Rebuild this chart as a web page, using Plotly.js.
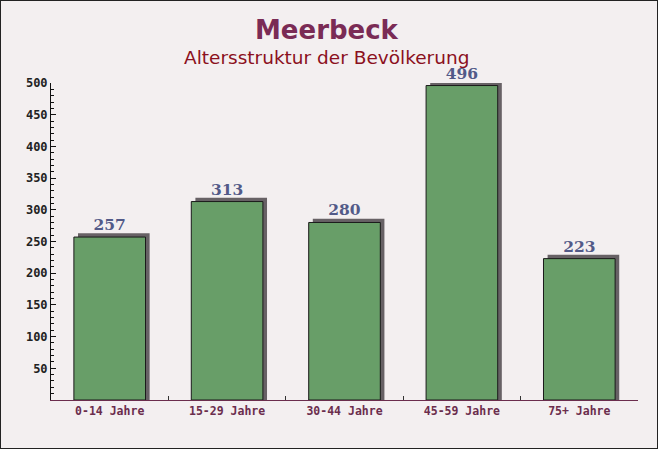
<!DOCTYPE html>
<html>
<head>
<meta charset="utf-8">
<script src="https://cdn.plot.ly/plotly-3.0.1.min.js"></script>
<style>
  body { margin: 0; }
  #plot { width: 658px; height: 449px; box-sizing: border-box; border: 1px solid #222; background: #f3eff0; }
</style>
</head>
<body>
<div id="plot"></div>
<script>
// Altersgruppen und Einwohnerzahlen
let groups = ["0-14 Jahre", "15-29 Jahre", "30-44 Jahre", "45-59 Jahre", "75+ Jahre"];
let counts = [257, 313, 280, 496, 223];
let yTicks = [50, 100, 150, 200, 250, 300, 350, 400, 450, 500];

// shadow behind the bars (few px right and up)
let shadow = {
  x: groups,
  y: counts.map(v => v + 6),
  type: "bar",
  width: 0.61,
  offset: -0.305 + 0.035,
  marker: { color: "#676165" },
  hoverinfo: "skip"
};

let bars = {
  x: groups,
  y: counts,
  type: "bar",
  width: 0.61,
  offset: -0.305,
  marker: { color: "rgb(104,158,104)", line: { color: "#1a1a1a", width: 1 } },
  text: counts.map(String),
  textposition: "outside",
  cliponaxis: false,
  textfont: { family: "DejaVu Serif", size: 15.5, weight: "bold", color: "#525a88" }
};

let layout = {
  width: 656,
  height: 447,
  margin: { l: 50, r: 19, t: 82, b: 48 },
  paper_bgcolor: "#f3eff0",
  plot_bgcolor: "#f3eff0",
  showlegend: false,
  barmode: "overlay",
  hovermode: false,
  xaxis: {
    type: "category",
    range: [-0.5, 4.5],
    showline: true,
    linecolor: "#6b2d4d",
    ticks: "inside",
    tickson: "boundaries",
    ticklen: 4,
    tickcolor: "#333",
    tickfont: { family: "DejaVu Sans Mono", size: 11.5, weight: "bold", color: "#6b2d4d" },
    showgrid: false,
    fixedrange: true
  },
  yaxis: {
    range: [0, 500],
    showline: true,
    linecolor: "#111",
    tickmode: "array",
    tickvals: yTicks,
    ticks: "inside",
    ticklen: 5,
    tickcolor: "#111",
    minor: { tickmode: "linear", tick0: 0, dtick: 10, ticks: "inside", ticklen: 3, tickcolor: "#111", showgrid: false },
    tickfont: { family: "DejaVu Sans Mono", size: 12, weight: "bold", color: "#222" },
    showgrid: false,
    zeroline: false,
    fixedrange: true
  },
  annotations: [
    {
      text: "Meerbeck", xref: "paper", yref: "paper", x: 0.47, y: 1.168,
      showarrow: false, yanchor: "middle",
      font: { family: "DejaVu Sans", size: 26, weight: "bold", color: "#7a2b55" }
    },
    {
      text: "Altersstruktur der Bevölkerung", xref: "paper", yref: "paper", x: 0.47, y: 1.079,
      showarrow: false, yanchor: "middle",
      font: { family: "DejaVu Sans", size: 18.5, color: "#8b1020" }
    }
  ]
};

Plotly.newPlot("plot", [shadow, bars], layout, { displayModeBar: false, staticPlot: true });
</script>
</body>
</html>
